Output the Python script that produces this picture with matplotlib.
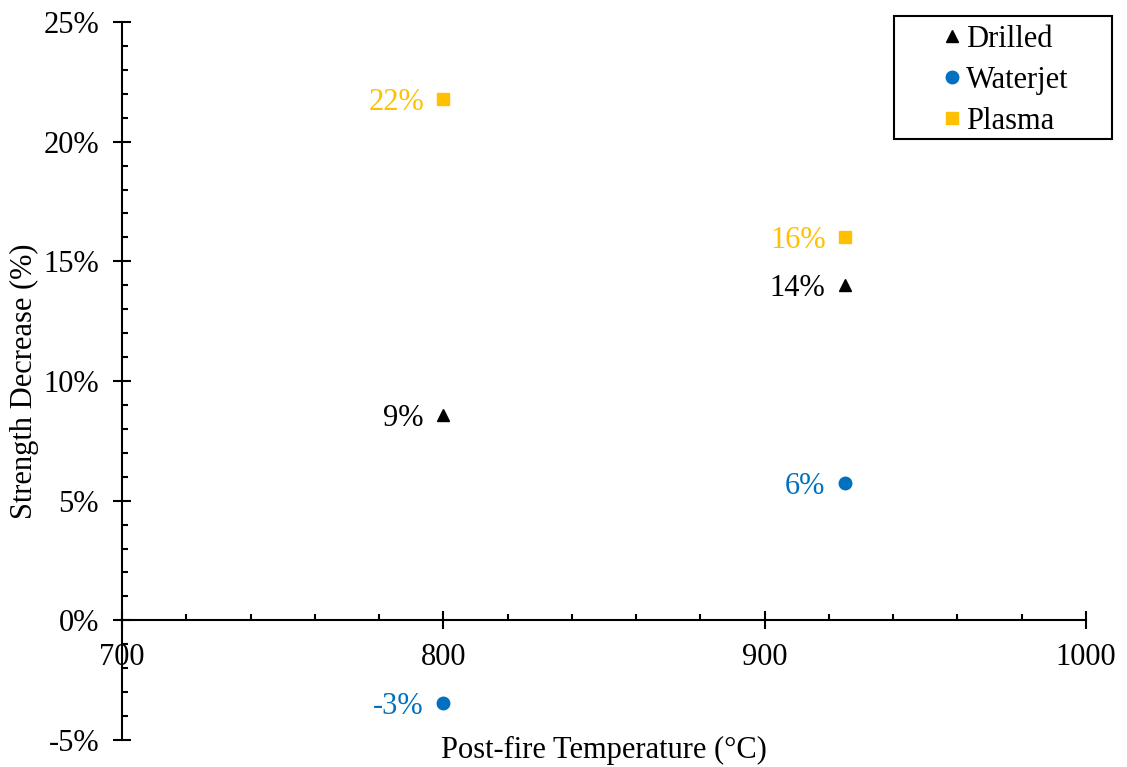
import matplotlib.pyplot as plt
from matplotlib.patches import Rectangle
from matplotlib.ticker import MultipleLocator, FuncFormatter

temps = [800, 925]
drilled = [8.6, 14.0]
waterjet = [-3.45, 5.75]
plasma = [21.8, 16.0]

series = [("Drilled", drilled, "^", "black"),
          ("Waterjet", waterjet, "o", "#0070C0"),
          ("Plasma", plasma, "s", "#FFC000")]

plt.rcParams['font.family'] = ['Liberation Serif', 'DejaVu Serif']
plt.rcParams['font.size'] = 22

W, H = 1127, 767
fig = plt.figure(figsize=(W / 100, H / 100), dpi=100)
ax = fig.add_axes([122 / W, 1 - 740 / H, 964 / W, 718 / H])

handles = []
for name, vals, mk, col in series:
    h, = ax.plot(temps, vals, linestyle='none', marker=mk, color=col, markersize=9, label=name)
    handles.append(h)
    for t, v in zip(temps, vals):
        ax.annotate(f"{round(v):.0f}%", (t, v), xytext=(-14, 0), textcoords='offset points',
                    ha='right', va='center_baseline', color=col, fontsize=22)

ax.set_xlim(700, 1000)
ax.set_ylim(-5, 25)
ax.spines['top'].set_visible(False)
ax.spines['right'].set_visible(False)
ax.spines['bottom'].set_position(('data', 0))
for s in ['left', 'bottom']:
    ax.spines[s].set_linewidth(1.5)

ax.xaxis.set_major_locator(MultipleLocator(100))
ax.xaxis.set_minor_locator(MultipleLocator(20))
ax.yaxis.set_major_locator(MultipleLocator(5))
ax.yaxis.set_minor_locator(MultipleLocator(1))
ax.yaxis.set_major_formatter(FuncFormatter(lambda v, p: f"{v:.0f}%"))
ax.tick_params(which='major', direction='inout', length=13, width=1.5, labelsize=22)
ax.tick_params(which='minor', direction='in', length=4.5, width=1.5)
ax.tick_params(axis='x', which='major', pad=10)
ax.tick_params(axis='y', which='major', pad=10)

ax.set_xlabel("Post-fire Temperature (°C)", fontsize=22, va='baseline')
ax.xaxis.set_label_coords(0.5, (740 - 758) / 718)
ax.set_ylabel("Strength Decrease (%)", fontsize=22)
ax.yaxis.set_label_coords((39 - 122) / 964, 0.5)

# legend box drawn separately so its size matches the original
fig.patches.append(Rectangle((894 / W, 1 - 139 / H), 218 / W, 123 / H, transform=fig.transFigure,
                             facecolor='white', edgecolor='black', linewidth=1.5, zorder=5))
leg = fig.legend(handles=handles, loc='upper left', bbox_to_anchor=(940 / W, 1 - 25 / H),
                 frameon=False, handletextpad=0.06, handlelength=0.8, borderpad=0,
                 labelspacing=0.39, borderaxespad=0, fontsize=22)
leg.set_zorder(6)

fig.savefig("out.png", dpi=100)
